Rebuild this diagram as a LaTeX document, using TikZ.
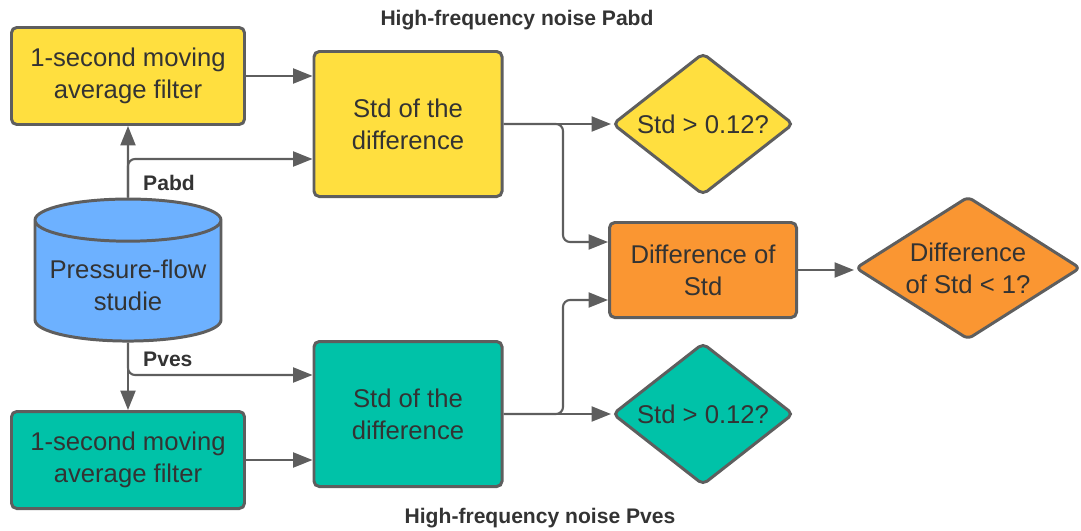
\documentclass[tikz,border=0pt]{standalone}
\usepackage{fontspec}
\setmainfont{Liberation Sans}
\usetikzlibrary{shapes.geometric,arrows.meta}
\definecolor{lineg}{HTML}{5E5E5E}
\definecolor{txtg}{HTML}{333333}
\definecolor{cyel}{HTML}{FFDF3F}
\definecolor{cblue}{HTML}{6DB1FF}
\definecolor{cteal}{HTML}{00C2A8}
\definecolor{corange}{HTML}{FA9632}
\newcommand{\boxfont}{\fontsize{14.6}{18.2}\selectfont}
\newcommand{\tagfont}{\fontsize{12}{14}\selectfont\bfseries}

\tikzset{
  box/.style={draw=lineg, line width=1.7pt, rounded corners=3pt, text=txtg,
    align=center, font=\boxfont},
  filterbox/.style={box, minimum width=46.6mm, minimum height=19.4mm},
  stdbox/.style={box, minimum width=37.6mm, minimum height=29mm},
  test/.style={draw=lineg, line width=1.7pt, rounded corners=3pt, text=txtg,
    align=center, font=\boxfont, diamond, inner sep=0pt},
  tag/.style={text=txtg, font=\tagfont},
  flow/.style={draw=lineg, line width=1.2pt, ->},
}

\begin{document}
\begin{tikzpicture}[x=0.2mm,y=-0.2mm,>={Triangle[length=11pt,width=8.5pt]}]
  \useasboundingbox (0,0) rectangle (1081,530);

  % Titles
  \node[tag] (tpabd) at (517,20) {High-frequency noise Pabd};
  \node[tag] (tpves) at (540,518) {High-frequency noise Pves};

  % Data source
  \node[cylinder, shape border rotate=90, aspect=0.25, draw=lineg, line width=1.7pt,
    fill=cblue, text=txtg, align=center, font=\boxfont,
    minimum width=37.2mm, minimum height=28.4mm] (db) at (128,285) {Pressure-flow\\studie};

  % Pabd branch (yellow)
  \node[filterbox, fill=cyel] (fa) at (128,76) {1-second moving\\average filter};
  \node[stdbox, fill=cyel] (sa) at (408,124) {Std of the\\difference};
  \node[test, fill=cyel, minimum width=36.2mm, minimum height=28.4mm, aspect=1.27] (da) at (703,124) {Std > 0.12?};

  % Pves branch (teal)
  \node[filterbox, fill=cteal] (fv) at (128,460) {1-second moving\\average filter};
  \node[stdbox, fill=cteal] (sv) at (408,414) {Std of the\\difference};
  \node[test, fill=cteal, minimum width=36.2mm, minimum height=28.4mm, aspect=1.27] (dv) at (703,414) {Std > 0.12?};

  % Comparison (orange)
  \node[box, fill=corange, minimum width=37.4mm, minimum height=19mm] (dd) at (703,270) {Difference of\\Std};
  \node[test, fill=corange, minimum width=45mm, minimum height=28.6mm, aspect=1.57] (dz) at (968,268) {Difference\\of Std < 1?};

  % Connectors
  \draw[flow] (db.north) -- (fa.south);
  \draw[flow, rounded corners=4pt] (db.north) -- (128,159) -- (sa.west |- 0,159);
  \draw[flow] (fa.east) -- (sa.west |- fa.east);
  \node[tag, anchor=west] (lpabd) at (137,183) {Pabd};

  \draw[flow] (db.south) -- (fv.north);
  \draw[flow, rounded corners=4pt] (db.south) -- (128,375) -- (sv.west |- 0,375);
  \draw[flow] (fv.east) -- (sv.west |- fv.east);
  \node[tag, anchor=west] (lpves) at (137,359) {Pves};

  \draw[flow] (sa.east) -- (da.west);
  \draw[flow, rounded corners=4pt] (sa.east) -- (563,124) -- (563,242) -- (dd.west |- 0,242);
  \draw[flow] (sv.east) -- (dv.west);
  \draw[flow, rounded corners=4pt] (sv.east) -- (563,414) -- (563,300) -- (dd.west |- 0,300);

  \draw[flow] (dd.east) -- (dd.east -| dz.west);
\end{tikzpicture}
\end{document}
